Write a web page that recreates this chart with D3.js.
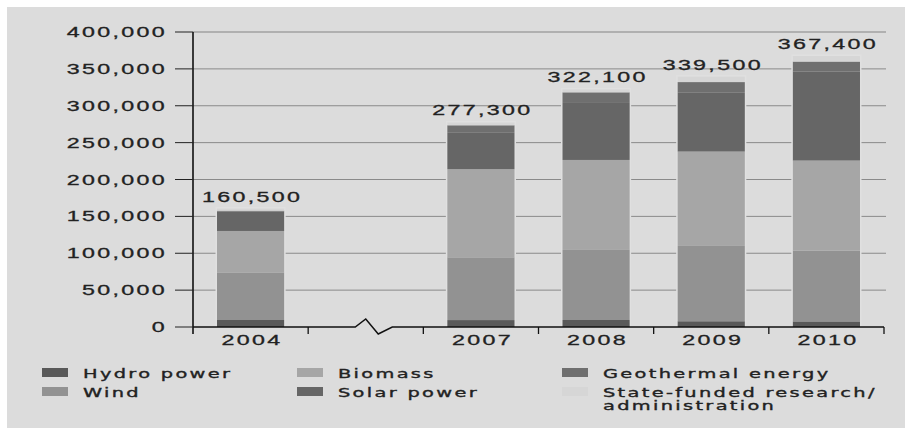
<!DOCTYPE html>
<html>
<head>
<meta charset="utf-8">
<script src="https://cdn.jsdelivr.net/npm/d3@7"></script>
<style>
  html, body { margin: 0; padding: 0; background: #ffffff; }
  svg { display: block; }
</style>
</head>
<body>
<div id="chart"></div>
<script>
// employment in renewable energies, by year
var years = ["2004", "2007", "2008", "2009", "2010"];
var slots = ["2004", "break", "2007", "2008", "2009", "2010"];

var hydro      = [9500, 9400, 9500, 7800, 7600];
var wind       = [63900, 85100, 95000, 102100, 96100];
var biomass    = [56800, 119500, 122000, 128000, 122000];
var solar      = [26500, 49300, 77300, 79700, 120900];
var geothermal = [1000, 10200, 14400, 14500, 13300];
var research   = [2800, 3800, 3900, 7400, 7500];
var totals     = [160500, 277300, 322100, 339500, 367400];

var seriesNames = ["Hydro power", "Wind", "Biomass", "Solar power", "Geothermal energy", "State-funded research/ administration"];
var seriesColors = ["#595959", "#929292", "#a6a6a6", "#666666", "#6f6f6f", "#d6d6d6"];
var yTicks = [0, 50000, 100000, 150000, 200000, 250000, 300000, 350000, 400000];

var W = 907, H = 429;
var SX = 1.55; // glyphs in the source are stretched horizontally

var svg = d3.select('#chart')
    .append('svg')
    .attr('width', W)
    .attr('height', H);

svg.append('rect')
    .attr('x', 7).attr('y', 7)
    .attr('width', 898).attr('height', 421)
    .attr('fill', '#dcdcdc');

var xScale = d3.scaleBand()
    .domain(slots)
    .range([193, 884])
    .paddingInner(0.417)
    .paddingOuter(0.2085);

var yScale = d3.scaleLinear()
    .domain([0, 400000])
    .range([327, 32]);

var fmt = d3.format(",");

// stack the series in drawing order
var rows = years.map(function(y, i) {
    return { year: y, s0: hydro[i], s1: wind[i], s2: biomass[i], s3: solar[i], s4: geothermal[i], s5: research[i], total: totals[i] };
});
var stack = d3.stack().keys(["s0", "s1", "s2", "s3", "s4", "s5"]);
var layers = stack(rows);

// gridlines
svg.append('g').selectAll('line')
    .data(yTicks.slice(1))
    .enter().append('line')
    .attr('x1', 193).attr('x2', 886)
    .attr('y1', function(d) { return yScale(d); })
    .attr('y2', function(d) { return yScale(d); })
    .attr('stroke', function(d) { return d === 400000 ? '#a2a2a2' : '#8a8a8a'; })
    .attr('stroke-width', function(d) { return d === 400000 ? 1.6 : 1; });

// light halo behind each bar, cuts the gridlines
svg.append('g').selectAll('rect')
    .data(rows)
    .enter().append('rect')
    .attr('x', function(d) { return xScale(d.year) - 1.5; })
    .attr('width', xScale.bandwidth() + 3)
    .attr('y', function(d) { return yScale(d.total) - 1.5; })
    .attr('height', function(d) { return yScale(0) - yScale(d.total) + 1.5; })
    .attr('fill', '#e0e0e0');

svg.append('g').selectAll('g')
    .data(layers)
    .enter().append('g')
    .attr('fill', function(d, i) { return seriesColors[i]; })
    .selectAll('rect')
    .data(function(d) { return d; })
    .enter().append('rect')
    .attr('x', function(d) { return xScale(d.data.year); })
    .attr('width', xScale.bandwidth())
    .attr('y', function(d) { return yScale(d[1]); })
    .attr('height', function(d) { return yScale(d[0]) - yScale(d[1]); });

function stretched(sel, x, y) {
    return sel.attr('transform', "translate(" + x + "," + y + ") scale(" + SX + ",1)");
}

function numberStyle(sel) {
    sel.attr('font-family', '"Liberation Sans", Arial, sans-serif')
        .attr('font-size', 15)
        .attr('letter-spacing', 1.5)
        .attr('fill', '#222')
        .attr('stroke', '#222')
        .attr('stroke-width', 0.3);
}

// value labels on top
svg.append('g').selectAll('text')
    .data(rows)
    .enter().append('text')
    .each(function(d) {
        stretched(d3.select(this), xScale(d.year) + xScale.bandwidth() / 2 + 1.5, yScale(d.total) - 7);
    })
    .attr('text-anchor', 'middle')
    .call(numberStyle)
    .text(function(d) { return fmt(d.total); });

// y axis
var yAxis = svg.append('g');
yAxis.append('line')
    .attr('x1', 193).attr('x2', 193)
    .attr('y1', yScale(400000)).attr('y2', 334)
    .attr('stroke', '#111').attr('stroke-width', 1.6);
yAxis.selectAll('.tick')
    .data(yTicks)
    .enter().append('line')
    .attr('x1', 175).attr('x2', 193)
    .attr('y1', function(d) { return yScale(d); })
    .attr('y2', function(d) { return yScale(d); })
    .attr('stroke', '#222').attr('stroke-width', 1);
yAxis.selectAll('text')
    .data(yTicks)
    .enter().append('text')
    .each(function(d) { stretched(d3.select(this), 167, yScale(d) + 5); })
    .attr('text-anchor', 'end')
    .call(numberStyle)
    .text(function(d) { return fmt(d); });

// x axis with a break between 2004 and 2007
var x0 = xScale.range()[0], x1 = xScale.range()[1], step = xScale.step();
var cx = xScale("break") + xScale.bandwidth() / 2;
var y0 = yScale(0);
var xAxis = svg.append('g');
xAxis.append('path')
    .attr('d', "M" + x0 + "," + y0 + "H" + (cx - 10.5) + "L" + cx + "," + (y0 - 8) +
        "L" + (cx + 12.5) + "," + (y0 + 7) + "L" + (cx + 26.5) + "," + y0 + "H" + x1)
    .attr('fill', 'none')
    .attr('stroke', '#111').attr('stroke-width', 1.5);
xAxis.selectAll('line')
    .data(d3.range(1, slots.length + 1))
    .enter().append('line')
    .attr('x1', function(k) { return x0 + k * step; })
    .attr('x2', function(k) { return x0 + k * step; })
    .attr('y1', y0).attr('y2', y0 + 7)
    .attr('stroke', '#111').attr('stroke-width', 1.3);
xAxis.selectAll('text')
    .data(years)
    .enter().append('text')
    .each(function(d) { stretched(d3.select(this), xScale(d) + xScale.bandwidth() / 2 + 1.5, 345); })
    .attr('text-anchor', 'middle')
    .call(numberStyle)
    .text(function(d) { return d; });

// legend, two rows, filled column by column
var colX = [42, 297, 562];
var rowY = [368, 387];
var legend = svg.append('g').selectAll('g')
    .data(seriesNames)
    .enter().append('g')
    .attr('transform', function(d, i) {
        return "translate(" + colX[Math.floor(i / 2)] + "," + rowY[i % 2] + ")";
    });
legend.append('rect')
    .attr('width', 26).attr('height', 9)
    .attr('fill', function(d, i) { return seriesColors[i]; });
legend.append('text')
    .attr('transform', "translate(41,9.5) scale(" + SX + ",1)")
    .attr('font-family', '"DejaVu Sans", Verdana, sans-serif')
    .attr('font-size', 12.5)
    .attr('letter-spacing', 1.5)
    .attr('fill', '#222')
    .attr('stroke', '#222')
    .attr('stroke-width', 0.35)
    .each(function(d) {
        var parts = d.split(" administration");
        var t = d3.select(this);
        t.append('tspan').attr('x', 0).text(parts[0]);
        if (parts.length > 1) {
            t.append('tspan').attr('x', 0).attr('dy', 14).text("administration");
        }
    });
</script>
</body>
</html>
